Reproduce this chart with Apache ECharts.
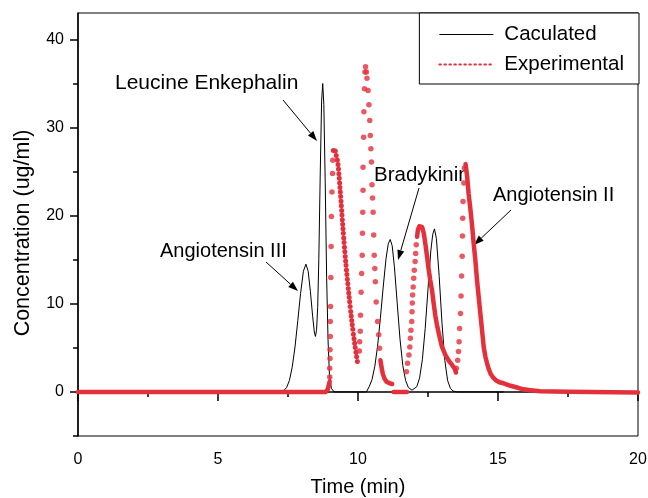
<!DOCTYPE html>
<html>
<head>
<meta charset="utf-8">
<script src="https://cdn.jsdelivr.net/npm/echarts@6/dist/echarts.min.js"></script>
<style>html,body{margin:0;padding:0;background:#fff}#c{width:648px;height:498px}</style>
</head>
<body>
<div id="c"></div>
<script>
// ---- data ----
const xTickLabels = [0, 5, 10, 15, 20];
const yTickLabels = [0, 10, 20, 30, 40];
const yMinorTicks = [-5, 5, 15, 25, 35];

// calculated profile (black line)
const calculated = [
  [0,0],[7.3,0],[7.45,0.5],[7.55,1.3],[7.65,2.8],[7.75,5.1],[7.85,8.1],[7.95,11.2],[8.05,13.7],[8.14,14.5],
  [8.22,13.7],[8.3,11.4],[8.38,8.6],[8.44,6.8],[8.48,6.3],[8.52,7.0],[8.56,9.6],[8.6,15.0],[8.65,24.5],[8.7,33.0],[8.74,35.0],
  [8.78,32.6],[8.83,23.6],[8.88,13.0],[8.93,5.9],[8.98,2.0],[9.05,0.4],[9.15,0],
  [10.3,0],[10.4,0.6],[10.5,1.4],[10.6,2.9],[10.7,5.2],[10.8,8.4],[10.9,11.9],[11.0,15.1],[11.08,16.8],[11.15,17.3],
  [11.22,16.6],[11.3,14.2],[11.4,10.1],[11.5,6.0],[11.6,3.0],[11.7,1.3],[11.8,0.5],[11.93,0.2],
  [12.0,0.2],[12.1,0.6],[12.2,1.6],[12.3,3.7],[12.4,7.2],[12.5,11.7],[12.6,16.0],[12.67,17.9],[12.73,18.5],
  [12.8,17.4],[12.9,13.1],[13.0,7.8],[13.1,3.6],[13.2,1.3],[13.3,0.4],[13.4,0.1],[13.55,0],[15.2,0]
];

// experimental: densely sampled stretches (drawn as a thick band)
const expDense = [
  [0,0],[8.85,0],[8.92,0.3],[8.96,0.8],[8.99,1.2], null,
  [10.8,3.6],[10.84,2.8],[10.89,2.0],[10.95,1.5],[11.02,1.15],[11.12,1.0],[11.22,0.9], null,
  [11.27,0],[11.75,0], null,
  [12.11,17.6],[12.14,18.4],[12.19,18.8],[12.23,18.9],[12.29,18.7],[12.35,18.0],[12.41,16.7],[12.47,15.3],[12.52,14.0],
  [12.58,12.7],[12.65,11.4],[12.7,10.1],[12.76,8.7],[12.82,7.6],[12.91,6.3],[13.0,5.1],[13.12,4.2],[13.24,3.55],
  [13.36,3.06],[13.46,2.6],[13.5,2.2], null,
  [13.84,25.85],[13.9,24.4],[13.95,22.5],[14.02,20.6],[14.08,18.7],[14.13,16.9],[14.19,15.0],[14.25,12.7],[14.31,10.8],
  [14.37,8.9],[14.43,7.0],[14.49,5.1],[14.55,4.0],[14.61,3.25],[14.67,2.6],[14.73,2.1],[14.82,1.65],[14.91,1.36],
  [15.05,1.1],[15.2,0.98],[15.45,0.7],[15.68,0.5],[15.9,0.3],[16.16,0.2],[16.5,0.08],[17.5,0.02],[20,-0.05]
];

// experimental: first peak tail (closely spaced dots)
const expTail = [
  [9.12,27.4],[9.16,27.6],[9.21,27.0],[9.28,26.0],[9.37,22.6],[9.46,18.7],[9.56,14.8],[9.67,11.2],
  [9.78,8.0],[9.88,5.5],[9.95,4.0],[9.99,3.25]
];

// experimental: sparse samples on steep fronts
const expDots = [
  [8.99,1.7],[8.99,2.7],[9.0,3.8],[9.0,4.8],[9.01,6.3],[9.01,8.0],[9.02,9.7],[9.03,13.0],[9.04,16.5],[9.05,19.9],
  [9.07,22.7],[9.09,24.8],[9.1,26.3],
  [10.05,4.65],[10.06,5.7],[10.08,6.9],[10.09,8.7],[10.11,11.3],[10.13,13.45],[10.15,15.5],[10.16,18.0],[10.17,20.4],
  [10.18,22.9],[10.18,25.5],[10.2,28.9],[10.21,31.8],[10.23,34.4],[10.25,36.3],[10.27,36.9],
  [10.3,36.3],[10.32,35.6],[10.36,34.2],[10.39,32.6],[10.42,30.8],[10.44,29.1],[10.46,27.6],[10.48,26.1],[10.5,23.5],
  [10.52,22.0],[10.54,20.4],[10.56,17.8],[10.58,15.5],[10.6,14.0],[10.62,12.5],[10.65,10.2],[10.7,8.0],[10.74,6.5],
  [10.77,4.95],
  [11.73,2.3],[11.77,3.25],[11.82,4.2],[11.85,5.1],[11.87,6.1],[11.89,7.0],[11.92,8.0],[11.93,9.1],[11.94,10.1],
  [11.95,11.0],[11.97,11.9],[11.99,12.9],[12.01,13.8],[12.04,14.8],[12.06,15.7],[12.08,16.7],
  [13.51,2.7],[13.56,3.6],[13.59,4.6],[13.61,5.7],[13.63,7.2],[13.66,8.9],[13.68,10.9],[13.7,13.15],[13.72,15.4],
  [13.73,17.7],[13.74,19.7],[13.75,21.6],[13.78,23.7],[13.8,25.4]
];

const annotations = [
  {text: 'Leucine Enkephalin', size: 21, x: 115, y: 83, from: [283, 100], to: [317, 141]},
  {text: 'Angiotensin III', size: 20, x: 160, y: 251, from: [266, 262], to: [298, 291]},
  {text: 'Bradykinin', size: 20.5, x: 374, y: 175, from: [419, 188], to: [398, 260]},
  {text: 'Angiotensin II', size: 20, x: 493, y: 195, from: [511, 210], to: [474, 245]}
];

// ---- chart ----
const FONT = 'Liberation Sans, Arial, sans-serif';
const RED = '#e3303b';
const chart = echarts.init(document.getElementById('c'), null, {renderer: 'canvas'});

function arrowGraphic(a) {
  const [x1, y1] = a.from, [x2, y2] = a.to;
  const ang = Math.atan2(y2 - y1, x2 - x1);
  const L = 10, W = 3.5;
  const bx = x2 - L * Math.cos(ang), by = y2 - L * Math.sin(ang);
  const px = -Math.sin(ang) * W, py = Math.cos(ang) * W;
  return [
    {type: 'line', shape: {x1, y1, x2: bx, y2: by}, style: {stroke: '#000', lineWidth: 1}},
    {type: 'polygon', shape: {points: [[x2, y2], [bx + px, by + py], [bx - px, by - py]]}, style: {fill: '#000'}},
    {type: 'text', x: a.x, y: a.y, style: {text: a.text, font: a.size + 'px ' + FONT, fill: '#000', verticalAlign: 'middle', align: 'left'}}
  ];
}

const graphics = [];
annotations.forEach(a => graphics.push(...arrowGraphic(a)));
// y axis title
graphics.push({type: 'text', x: 23, y: 233, rotation: Math.PI / 2,
  style: {text: 'Concentration (ug/ml)', font: '21.5px ' + FONT, fill: '#000', align: 'center', verticalAlign: 'middle'}});

chart.setOption({
  animation: false,
  backgroundColor: '#fff',
  grid: {left: 78, right: 10, top: 13, bottom: 62, show: true, borderColor: '#000', borderWidth: 1,
    backgroundColor: 'transparent', containLabel: false, outerBoundsMode: 'none'},
  legend: {
    data: [
      {name: 'Caculated', itemStyle: {opacity: 0}, lineStyle: {color: '#000', width: 1.2, opacity: 1}},
      {name: 'Experimental', itemStyle: {opacity: 0}, lineStyle: {color: RED, width: 2, type: [1.5, 3.5], opacity: 1}}
    ],
    orient: 'vertical', right: 9, top: 13,
    padding: [11, 15, 9, 19],
    itemWidth: 54, itemHeight: 14, itemGap: 9,
    borderColor: '#000', borderWidth: 1, borderRadius: 0, backgroundColor: '#fff',
    textStyle: {fontSize: 20.5, fontFamily: FONT, color: '#000', padding: [0, 0, 0, 6]}
  },
  xAxis: {
    type: 'value', min: 0, max: 20, interval: 5,
    name: 'Time (min)', nameLocation: 'middle', nameGap: 41,
    nameTextStyle: {fontSize: 20, fontFamily: FONT, color: '#000'},
    axisLine: {lineStyle: {color: '#000', width: 1.5}},
    axisTick: {length: 9, lineStyle: {color: '#000', width: 1.5}},
    minorTick: {show: true, splitNumber: 2, length: 5, lineStyle: {color: '#000', width: 1.5}},
    axisLabel: {fontSize: 16, fontFamily: FONT, color: '#000', margin: 16,
      customValues: xTickLabels},
    splitLine: {show: false}
  },
  yAxis: [
    {
      type: 'value', min: -5, max: 43,
      axisLine: {onZero: false, lineStyle: {color: '#000', width: 1.5}},
      axisTick: {length: 8, lineStyle: {color: '#000', width: 1.5}, customValues: yTickLabels},
      axisLabel: {fontSize: 16, fontFamily: FONT, color: '#000', margin: 14, customValues: yTickLabels},
      splitLine: {show: false}
    },
    {
      type: 'value', min: -5, max: 43, position: 'left',
      axisLine: {show: false},
      axisTick: {show: true, length: 5, lineStyle: {color: '#000', width: 1.5}, customValues: yMinorTicks},
      axisLabel: {show: false, customValues: yMinorTicks},
      splitLine: {show: false}
    }
  ],
  graphic: graphics,
  series: [
    {
      name: 'Caculated', type: 'line', data: calculated, symbol: 'none',
      lineStyle: {color: '#000', width: 1}, itemStyle: {color: '#000'}, z: 2
    },
    {
      name: 'Experimental', type: 'line', data: expTail, symbol: 'none', smooth: 0.3,
      lineStyle: {color: RED, width: 5, type: [0, 4.6], cap: 'round'}, itemStyle: {color: RED}, z: 3
    },
    {
      name: 'expDense', type: 'line', data: expDense, symbol: 'none', connectNulls: false,
      lineStyle: {color: RED, width: 4.5, cap: 'round', join: 'round'}, itemStyle: {color: RED}, z: 3
    },
    {
      name: 'expDots', type: 'scatter', data: expDots, symbol: 'circle', symbolSize: 5.5,
      itemStyle: {color: RED}, z: 3
    }
  ]
});
</script>
</body>
</html>
